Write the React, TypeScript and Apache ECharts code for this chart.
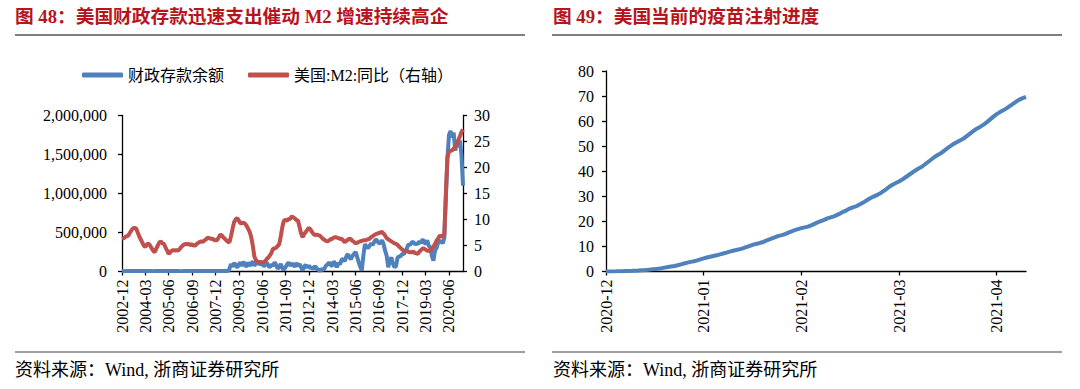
import React, { useEffect, useRef } from "react";
import * as echarts from "echarts";

const leftTitle = "图 48：美国财政存款迅速支出催动 M2 增速持续高企";
const rightTitle = "图 49：美国当前的疫苗注射进度";
const footerText = "资料来源：Wind, 浙商证券研究所";
const depositName = "财政存款余额";
const m2Name = "美国:M2:同比（右轴）";
const vaccineName = "美国疫苗注射进度";

// Monthly categories 2002-12 .. 2021-03
const leftStart = { year: 2002, month: 12 };
const leftCount = 220;
const leftCategories: string[] = [];
for (let i = 0; i < leftCount; i++) {
  const m0 = leftStart.month - 1 + i;
  const y = leftStart.year + Math.floor(m0 / 12);
  const m = (m0 % 12) + 1;
  leftCategories.push(`${y}-${m < 10 ? "0" + m : m}`);
}

// 财政存款余额 (monthly)
const deposits = [
  5000,
  5200, 4800, 6100, 5400, 5000, 5300, 4900, 5100, 5600, 5000, 5200, 5800,
  5100, 4900, 5500, 6200, 5000, 5300, 5200, 4800, 5700, 5100, 5000, 5600,
  5300, 5000, 5400, 6500, 5100, 5200, 4900, 5000, 5800, 5200, 5100, 5500,
  5000, 4800, 5600, 6800, 5200, 5400, 5000, 5100, 5900, 5000, 5300, 5600,
  5200, 5000, 5500, 7000, 5100, 5300, 4900, 5200, 6000, 5100, 5000, 5400,
  5200, 4900, 5400, 5800, 5100, 5300, 5000, 5600, 35000, 95000, 62000, 108000,
  85000, 48000, 92000, 115000, 70000, 125000, 88000, 60000, 118000, 75000, 95000, 130000,
  72000, 110000, 95000, 140000, 80000, 135000, 60000, 100000, 115000, 70000, 55000, 90000,
  70000, 118000, 85000, 34000, 60000, 97000, 40000, 25000, 55000, 90000, 118000, 75000,
  100000, 89000, 60000, 110000, 70000, 95000, 55000, 13000, 60000, 85000, 50000, 76000,
  40000, 55000, 35000, 70000, 40000, 25000, 8000, 30000, 20000, 35000, 76000, 90000,
  118000, 85000, 70000, 130000, 100000, 55000, 110000, 90000, 150000, 160000, 130000, 190000,
  224000, 180000, 160000, 200000, 224000, 250000, 190000, 120000, 60000, 13000, 200000, 350000,
  320000, 300000, 330000, 360000, 340000, 380000, 414000, 390000, 360000, 370000, 400000, 350000,
  266000, 200000, 55000, 140000, 180000, 100000, 55000, 70000, 181000, 190000, 200000, 224000,
  224000, 260000, 300000, 350000, 340000, 370000, 380000, 350000, 360000, 350000, 390000, 360000,
  414000, 380000, 350000, 400000, 330000, 308000, 200000, 140000, 266000, 300000, 370000, 380000,
  392000, 360000, 426000, 950000, 1450000, 1750000, 1800000, 1720000, 1780000, 1550000, 1650000, 1600000,
  1680000, 1500000, 1100000,
];

// 美国:M2:同比 (monthly, %)
const m2Yoy = [
  6.3,
  6.4, 6.6, 6.8, 6.9, 7.4, 7.9, 8.3, 8.4, 8.3, 7.6, 6.8, 6.2,
  5.6, 5.0, 4.7, 5.2, 5.4, 5.0, 4.5, 4.0, 3.7, 4.4, 5.0, 5.6,
  5.8, 5.4, 5.3, 4.6, 4.0, 3.4, 3.7, 4.0, 4.1, 4.0, 4.1, 4.0,
  4.3, 4.7, 5.0, 5.2, 5.3, 5.2, 5.3, 5.1, 5.2, 5.0, 5.0, 5.3,
  5.5, 5.7, 5.8, 5.7, 6.0, 6.2, 6.5, 6.4, 6.3, 6.3, 6.1, 6.0,
  6.0, 6.5, 7.0, 7.0, 6.6, 6.3, 6.0, 5.7, 5.6, 6.8, 8.2, 9.5,
  10.0, 10.3, 9.8, 9.3, 9.3, 9.4, 9.2, 8.8, 8.2, 7.6, 6.6, 5.0,
  2.9, 2.2, 1.8, 1.7, 1.8, 1.7, 1.8, 2.0, 2.4, 2.7, 3.1, 3.6,
  4.4, 4.4, 4.6, 4.9, 5.3, 6.8, 8.6, 9.8, 9.9, 9.8, 10.1, 10.1,
  10.6, 10.4, 10.2, 9.9, 9.8, 8.6, 7.3, 6.6, 7.2, 7.6, 8.0, 8.4,
  8.1, 7.6, 7.2, 7.0, 7.1, 7.0, 6.9, 6.6, 6.3, 6.1, 5.9, 5.8,
  6.0, 6.2, 6.3, 6.5, 6.6, 6.5, 6.4, 6.3, 6.3, 6.0, 5.6, 5.9,
  6.1, 6.3, 6.2, 5.9, 5.7, 5.4, 5.5, 5.7, 5.8, 5.9, 6.0, 6.0,
  6.1, 6.2, 6.3, 6.6, 6.8, 7.0, 7.2, 7.3, 7.4, 7.5, 7.6, 7.3,
  6.9, 6.4, 6.2, 6.0, 5.8, 5.6, 5.4, 5.3, 5.1, 4.8, 4.5, 4.2,
  4.0, 3.9, 3.9, 3.8, 3.7, 3.7, 3.8, 3.6, 3.5, 3.4, 3.8, 4.1,
  4.4, 4.4, 4.2, 4.0, 4.0, 4.0, 4.4, 4.8, 5.3, 5.9, 6.3, 6.9,
  6.8, 6.7, 7.2, 15.0, 22.0, 23.0, 23.2, 23.3, 23.6, 24.0, 24.6, 25.3,
  26.0, 26.8, 27.3,
];

// Daily categories starting 2020-12-13
const rightStart = Date.UTC(2020, 11, 13);
const vaccine = [
  0, 0.01, 0.03, 0.06, 0.1, 0.14, 0.18, 0.22, 0.27, 0.33,
  0.4, 0.5, 0.6, 0.72, 0.85, 0.95, 1.1, 1.3, 1.55, 1.8,
  2.0, 2.2, 2.5, 2.85, 3.2, 3.55, 3.85, 4.1, 4.45, 4.85,
  5.25, 5.6, 5.9, 6.2, 6.45, 6.85, 7.2, 7.55, 7.95, 8.3,
  8.6, 8.85, 9.25, 9.7, 10.15, 10.6, 11.0, 11.3, 11.65, 12.2,
  12.7, 13.2, 13.7, 14.2, 14.5, 14.9, 15.5, 16.0, 16.5, 16.9,
  17.3, 17.6, 17.9, 18.4, 19.0, 19.6, 20.1, 20.6, 21.2, 21.6,
  22.0, 22.6, 23.2, 23.9, 24.5, 25.2, 25.7, 26.1, 26.8, 27.5,
  28.3, 29.1, 29.8, 30.4, 31.0, 31.9, 32.8, 33.8, 34.6, 35.3,
  35.9, 36.7, 37.6, 38.5, 39.4, 40.3, 41.1, 41.8, 42.8, 43.8,
  44.8, 45.8, 46.6, 47.3, 48.3, 49.3, 50.2, 51.1, 51.8, 52.5,
  53.2, 54.2, 55.2, 56.2, 57.1, 57.8, 58.6, 59.6, 60.7, 61.8,
  62.8, 63.6, 64.3, 65.1, 66.0, 66.9, 67.8, 68.6, 69.2, 69.7,
];
const rightCategories: string[] = vaccine.map((_, i) => {
  const d = new Date(rightStart + i * 86400000);
  const m = d.getUTCMonth() + 1;
  const day = d.getUTCDate();
  return `${d.getUTCFullYear()}-${m < 10 ? "0" + m : m}-${day < 10 ? "0" + day : day}`;
});

const leftTicks = [0, 500000, 1000000, 1500000, 2000000];

const SERIF = '"Liberation Serif", "Times New Roman", "Noto Sans CJK SC", serif';
const MIXED = '"Liberation Serif", "Noto Sans CJK SC", serif';
const TITLE_COLOR = "#B8141B";
const BLUE = "#4F81BD";
const RED = "#C0504D";

export default function App() {
  const ref = useRef<HTMLDivElement>(null);
  useEffect(() => {
    if (!ref.current) return;
    const chart = echarts.init(ref.current, undefined, { renderer: "svg" });
    const axisLine = { show: true, lineStyle: { color: "#000", width: 1.3 } };
    const axisTick = { show: true, inside: false, length: 4, lineStyle: { color: "#000", width: 1.3 } };
    const labelStyle = { color: "#000", fontSize: 16, fontFamily: SERIF };
    chart.setOption({
      animation: false,
      backgroundColor: "#fff",
      grid: [
        { left: 122, top: 115.5, width: 341, height: 156, containLabel: false },
        { left: 606, top: 71, width: 420, height: 200.5, containLabel: false },
      ],
      legend: {
        data: [depositName, m2Name],
        left: 82,
        top: 67,
        padding: 0,
        icon: "roundRect",
        itemWidth: 41,
        itemHeight: 5,
        itemGap: 24,
        textStyle: { color: "#000", fontSize: 16, fontFamily: MIXED },
      },
      xAxis: [
        {
          type: "category",
          gridIndex: 0,
          data: leftCategories,
          boundaryGap: false,
          axisLine,
          axisTick: { ...axisTick, interval: 14 },
          axisLabel: { ...labelStyle, rotate: 90, interval: 14, margin: 8 },
          splitLine: { show: false },
        },
        {
          type: "category",
          gridIndex: 1,
          data: rightCategories,
          boundaryGap: false,
          axisLine,
          axisTick: { ...axisTick, interval: 29 },
          axisLabel: {
            ...labelStyle,
            rotate: 90,
            interval: 29,
            margin: 8,
            formatter: (v: string) => v.slice(0, 7),
          },
          splitLine: { show: false },
        },
      ],
      yAxis: [
        {
          type: "value",
          gridIndex: 0,
          min: leftTicks[0],
          max: leftTicks[leftTicks.length - 1],
          interval: 500000,
          axisLine,
          axisTick,
          axisLabel: {
            ...labelStyle,
            margin: 15,
            formatter: (v: number) => v.toLocaleString("en-US"),
          },
          splitLine: { show: false },
        },
        {
          type: "value",
          gridIndex: 0,
          position: "right",
          min: 0,
          max: 30,
          interval: 5,
          axisLine,
          axisTick,
          axisLabel: { ...labelStyle, margin: 11 },
          splitLine: { show: false },
        },
        {
          type: "value",
          gridIndex: 1,
          min: 0,
          max: 80,
          interval: 10,
          axisLine,
          axisTick,
          axisLabel: { ...labelStyle, margin: 12 },
          splitLine: { show: false },
        },
      ],
      series: [
        {
          name: depositName,
          type: "line",
          xAxisIndex: 0,
          yAxisIndex: 0,
          data: deposits,
          showSymbol: false,
          color: BLUE,
          lineStyle: { color: BLUE, width: 4 },
          z: 2,
        },
        {
          name: m2Name,
          type: "line",
          xAxisIndex: 0,
          yAxisIndex: 1,
          data: m2Yoy,
          showSymbol: false,
          color: RED,
          lineStyle: { color: RED, width: 4 },
          z: 3,
        },
        {
          name: vaccineName,
          type: "line",
          xAxisIndex: 1,
          yAxisIndex: 2,
          data: vaccine,
          showSymbol: false,
          color: BLUE,
          lineStyle: { color: BLUE, width: 4 },
          z: 2,
        },
      ],
      graphic: [
        {
          type: "text",
          left: 15,
          top: 7,
          style: { text: leftTitle, fill: TITLE_COLOR, font: `bold 18.7px ${MIXED}` },
        },
        {
          type: "text",
          left: 553,
          top: 7,
          style: { text: rightTitle, fill: TITLE_COLOR, font: `bold 18.7px ${MIXED}` },
        },
        { type: "line", shape: { x1: 15, y1: 35, x2: 525, y2: 35 }, style: { stroke: "#7f7f7f", lineWidth: 2 } },
        { type: "line", shape: { x1: 552, y1: 35, x2: 1062, y2: 35 }, style: { stroke: "#7f7f7f", lineWidth: 2 } },
        { type: "line", shape: { x1: 15, y1: 352, x2: 525, y2: 352 }, style: { stroke: "#7f7f7f", lineWidth: 1.5 } },
        { type: "line", shape: { x1: 552, y1: 352, x2: 1062, y2: 352 }, style: { stroke: "#7f7f7f", lineWidth: 1.5 } },
        {
          type: "text",
          left: 15,
          top: 361,
          style: { text: footerText, fill: "#000", font: `18px ${MIXED}` },
        },
        {
          type: "text",
          left: 553,
          top: 361,
          style: { text: footerText, fill: "#000", font: `18px ${MIXED}` },
        },
      ],
    });
    return () => chart.dispose();
  }, []);
  return (
    <div
      ref={ref}
      style={{ position: "absolute", left: 0, top: 0, width: 1080, height: 389, background: "#fff" }}
    />
  );
}
